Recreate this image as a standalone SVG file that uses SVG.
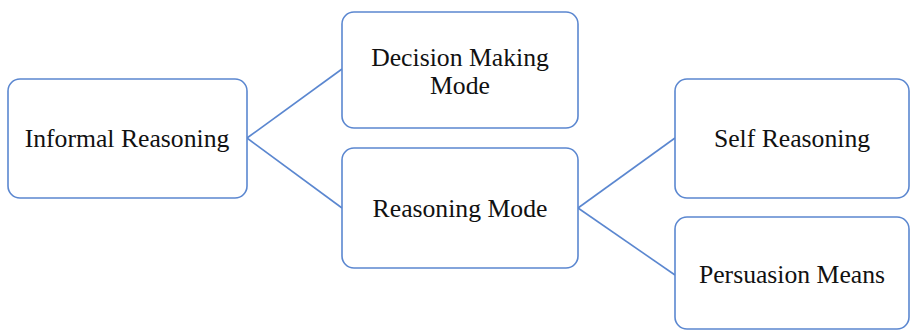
<svg xmlns="http://www.w3.org/2000/svg" width="910" height="331" viewBox="0 0 910 331">
<style>
.box{fill:#fff;stroke:#5b87d0;stroke-width:1.6}
.lbl{font-family:"Liberation Serif","Times New Roman",serif;font-size:25.7px;fill:#111;text-anchor:middle}
.con{stroke:#5b87d0;stroke-width:1.6;fill:none}
</style>
<rect width="910" height="331" fill="#fff"/>
<g id="connectors">
<path class="con" d="M247 138 L342 69"/>
<path class="con" d="M247 138 L342 208"/>
<path class="con" d="M578 208 L675 138"/>
<path class="con" d="M578 208 L675 275"/>
</g>
<g id="informal">
<rect class="box" x="8" y="79" width="239" height="119" rx="12"/>
<text class="lbl" x="127" y="147">Informal Reasoning</text>
</g>
<g id="decision">
<rect class="box" x="342" y="12" width="236" height="116" rx="12"/>
<text class="lbl" x="460" y="66">Decision Making</text>
<text class="lbl" x="460" y="94">Mode</text>
</g>
<g id="reasoning">
<rect class="box" x="342" y="148" width="236" height="120" rx="12"/>
<text class="lbl" x="460" y="217">Reasoning Mode</text>
</g>
<g id="self">
<rect class="box" x="675" y="79" width="234" height="119" rx="12"/>
<text class="lbl" x="792" y="147">Self Reasoning</text>
</g>
<g id="persuasion">
<rect class="box" x="675" y="217" width="234" height="112" rx="12"/>
<text class="lbl" x="792" y="283">Persuasion Means</text>
</g>
</svg>
